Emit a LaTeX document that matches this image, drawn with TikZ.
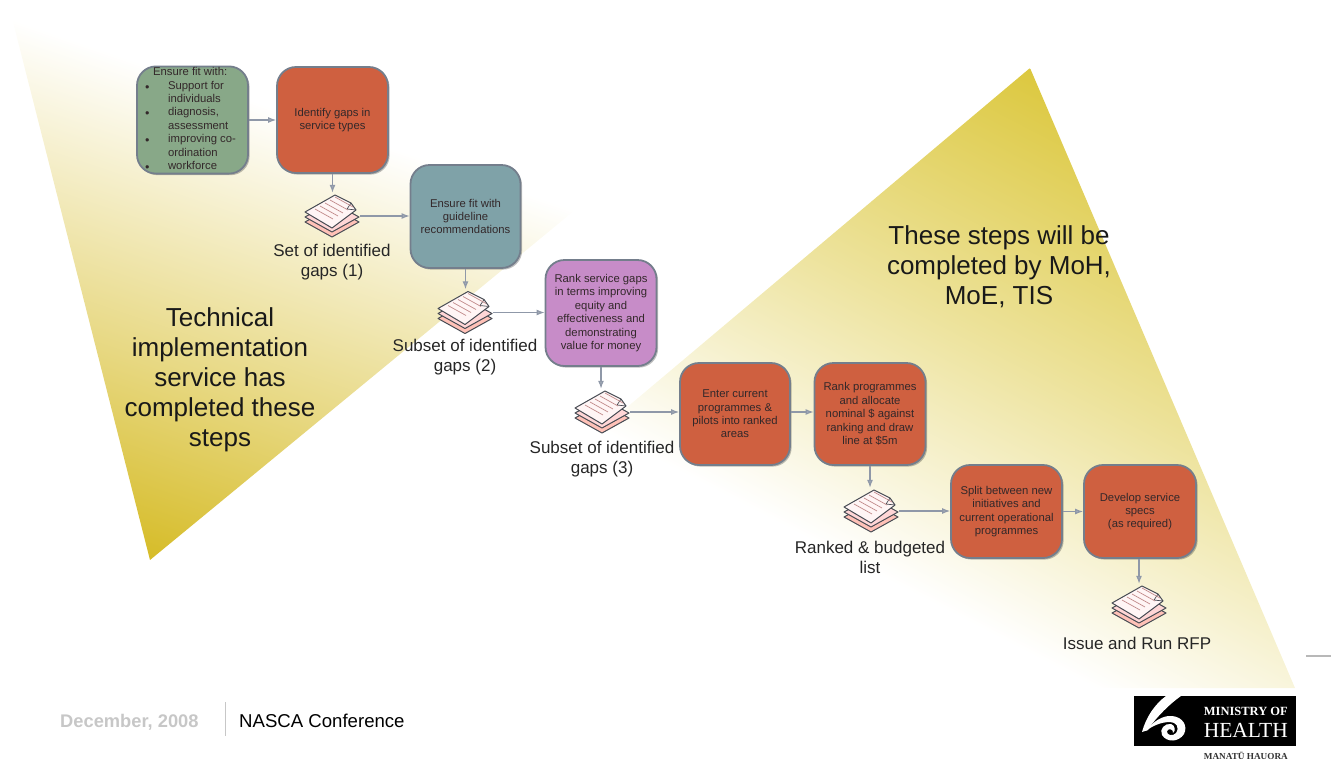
\documentclass[tikz,border=0pt]{standalone}
\usepackage{fontspec}
\setmainfont{Liberation Sans}
\newfontfamily\logofont{Liberation Serif}
\usetikzlibrary{arrows.meta,shadows}
\definecolor{tipleft}{HTML}{D6BC28}
\definecolor{tipright}{HTML}{DCC83F}
\definecolor{boxedge}{HTML}{747E8C}
\definecolor{linkc}{HTML}{8F98A8}
\definecolor{cred}{HTML}{CF6040}
\definecolor{cgreen}{HTML}{88A888}
\definecolor{cteal}{HTML}{7FA2A8}
\definecolor{cpurple}{HTML}{C78CC8}
\definecolor{boxtext}{HTML}{33282A}
\pgfdeclareverticalshading{gradleft}{100bp}{color(0bp)=(tipleft); color(25bp)=(tipleft); color(45bp)=(tipleft!58!white); color(75bp)=(white); color(100bp)=(white)}
\pgfdeclareverticalshading{gradright}{100bp}{color(0bp)=(white); color(25bp)=(white); color(50bp)=(tipright!52!white); color(75bp)=(tipright); color(100bp)=(tipright)}
\tikzset{
  stepbox/.style={draw=boxedge,line width=1.8pt,rounded corners=19pt,inner sep=0pt,align=center,
    text=boxtext,font=\fontsize{11.3}{13.4}\selectfont,
    general shadow={shadow xshift=1.6pt,shadow yshift=-1.6pt,fill=black,opacity=.25}},
  doc/.style={minimum width=56pt,minimum height=46pt,inner sep=0pt},
  lab/.style={align=center,text=black!85,font=\fontsize{17}{20}\selectfont},
  big/.style={align=center,text=black!90,font=\fontsize{26}{30}\selectfont},
  link/.style={draw=linkc,line width=1.2pt,-{Latex[length=8pt,width=6pt,fill=linkc!80!white]}},
  sheetline/.style={draw=black!50!linkc,line width=1pt,line join=round},
  docs/.pic={
    \draw[sheetline,fill=red!22!white!92!orange] (-27,6) -- (0,-9) -- (27,6) -- (0,21) -- cycle;
    \draw[sheetline,fill=red!16!white] (-27,1) -- (0,-14) -- (27,1) -- (0,16) -- cycle;
    \draw[sheetline,fill=red!4!white] (-27,-4) -- (3,-21) -- (19,-13) -- (24,-6) -- (0,12) -- cycle;
    \draw[sheetline,line width=.7pt] (19,-13) -- (15,-7) -- (24,-6);
    \foreach \k in {0,1,2,3,4} \draw[draw=red!30!gray!70!white,line width=.7pt] (-17+\k*5,-7-\k*3) -- (1+\k*5,3-\k*3);
  }
}
\begin{document}
\begin{tikzpicture}[x=1pt,y=-1pt]
\useasboundingbox (0,0) rectangle (1335,761);
% left wedge
\begin{scope}
  \clip (12,18) -- (575,210) -- (150,560) -- cycle;
  \shade[transform canvas={shift={(15,20)},rotate=-18.7},shading=gradleft] (-300,0) rectangle (1000,468);
\end{scope}
% right wedge
\begin{scope}
  \clip (1030,68) -- (600,430) -- (1060,688) -- (1295,688) -- cycle;
  \shade[transform canvas={shift={(600,430)},rotate=-27.5},shading=gradright] (-300,-519) rectangle (1200,0);
\end{scope}
% boxes
\node[stepbox,fill=cgreen,minimum width=111pt,minimum height=106pt] (n1) at (192.5,120) {%
  \hspace*{-4pt}\begin{tabular}{@{}p{23pt}@{}l@{}}
  \multicolumn{2}{@{}l@{}}{\hspace{8pt}Ensure fit with:}\\
  \scalebox{.8}{$\bullet$} & Support for\\
   & individuals\\
  \scalebox{.8}{$\bullet$} & diagnosis,\\
   & assessment\\
  \scalebox{.8}{$\bullet$} & improving co-\\
   & ordination\\
  \scalebox{.8}{$\bullet$} & workforce
  \end{tabular}};
\node[stepbox,fill=cred,minimum width=111pt,minimum height=106pt] (n2) at (332.5,120) {Identify gaps in\\service types};
\node[stepbox,fill=cteal,minimum width=110pt,minimum height=103pt] (n3) at (465.5,216.5) {Ensure fit with\\guideline\\recommendations};
\node[stepbox,fill=cpurple,minimum width=111pt,minimum height=106pt] (n4) at (601,313) {Rank service gaps\\in terms improving\\equity and\\effectiveness and\\demonstrating\\value for money};
\node[stepbox,fill=cred,minimum width=110pt,minimum height=102pt] (n5) at (735,414) {Enter current\\programmes \&\\pilots into ranked\\areas};
\node[stepbox,fill=cred,minimum width=111pt,minimum height=102pt] (n6) at (870,414) {Rank programmes\\and allocate\\nominal \$ against\\ranking and draw\\line at \$5m};
\node[stepbox,fill=cred,minimum width=111pt,minimum height=93pt] (n7) at (1006.5,511.5) {Split between new\\initiatives and\\current operational\\programmes};
\node[stepbox,fill=cred,minimum width=112pt,minimum height=93pt] (n8) at (1140,511.5) {Develop service\\specs\\(as required)};
% document stacks
\node[doc] (d1) at (332,216) {};
\node[doc] (d2) at (465,312.5) {};
\node[doc] (d3) at (602,412) {};
\node[doc] (d4) at (871,511) {};
\node[doc] (d5) at (1139,607) {};
\foreach \d in {d1,d2,d3,d4,d5} \pic at (\d) {docs};
% labels
\node[lab] (l1) at (332,262) {Set of identified\\gaps (1)};
\node[lab] (l2) at (465,357) {Subset of identified\\gaps (2)};
\node[lab] (l3) at (602,459) {Subset of identified\\gaps (3)};
\node[lab] (l4) at (870,557) {Ranked \& budgeted\\list};
\node[lab] (l5) at (1137,643) {Issue and Run RFP};
\node[big] (t1) at (220,380) {Technical\\implementation\\service has\\completed these\\steps};
\node[big] (t2) at (999,267) {These steps will be\\completed by MoH,\\MoE, TIS};
% connectors
\draw[link] (n1.east |- n1) -- (n2.west |- n1);
\draw[link] (n2.south) -- (n2.south |- d1.north);
\draw[link] (d1.east) -- (d1.east -| n3.west);
\draw[link] (n3.south) -- (n3.south |- d2.north);
\draw[link] (d2.east) -- (d2.east -| n4.west);
\draw[link] (n4.south) -- (n4.south |- d3.north);
\draw[link] (d3.east) -- (d3.east -| n5.west);
\draw[link] (d3.east -| n5.east) -- (d3.east -| n6.west);
\draw[link] (n6.south) -- (n6.south |- d4.north);
\draw[link] (d4.east) -- (d4.east -| n7.west);
\draw[link] (n7.east) -- (n7.east -| n8.west);
\draw[link] (n8.south -| d5.north) -- (d5.north);
% footer
\node[anchor=base west,inner sep=0pt,text=black!22,font=\fontsize{18.3}{20}\selectfont\bfseries] (f1) at (60,727) {December, 2008};
\node[anchor=base west,inner sep=0pt,text=black,font=\fontsize{18.6}{20}\selectfont] (f2) at (239,727) {NASCA Conference};
\draw[black!22,line width=1pt] (225,702) -- (225,736);
\draw[black!28,line width=2.6pt] (1306,656) -- (1331,656);
% logo
\fill[black] (1134,696) rectangle (1296,746);
\fill[white] (1166,696) .. controls (1155,704) and (1146,717) .. (1142,732) -- (1148,730) .. controls (1153,721) and (1168,705) .. (1181,696) -- cycle;
\fill[white] (1146,731) .. controls (1152,722) and (1163,715) .. (1172,716) .. controls (1183,717) and (1188,726) .. (1184,734) .. controls (1179,742) and (1167,743) .. (1162,735) .. controls (1159,729) and (1165,723) .. (1171,724) .. controls (1175,725) and (1176,731) .. (1173,733) .. controls (1174,729) and (1168,728) .. (1167,731) .. controls (1166,735) and (1173,737) .. (1176,733) .. controls (1180,727) and (1176,722) .. (1170,722) .. controls (1161,722) and (1152,726) .. (1146,731) -- cycle;
\node[anchor=base east,inner sep=0pt,text=white,font=\logofont\fontsize{12.5}{14}\selectfont\bfseries] (g1) at (1288,715) {MINISTRY OF};
\node[anchor=base east,inner sep=0pt,text=white,font=\logofont\fontsize{21.5}{24}\selectfont] (g2) at (1288,737) {HEALTH};
\node[anchor=base east,inner sep=0pt,text=black!80,font=\logofont\fontsize{9.2}{10}\selectfont\bfseries] (g3) at (1288,759) {MANATŪ HAUORA};
\end{tikzpicture}
\end{document}
